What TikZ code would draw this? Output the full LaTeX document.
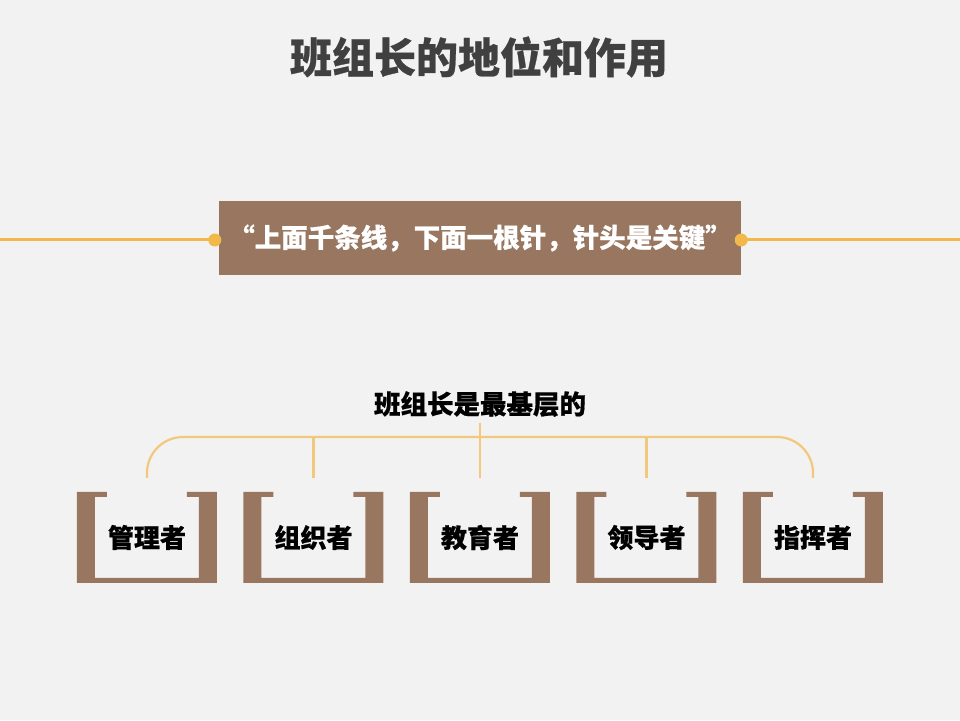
\documentclass[tikz,border=0pt]{standalone}
\usepackage{fontspec}
\setmainfont{Noto Sans CJK SC}[BoldFeatures={FakeBold=0.6}]
\usetikzlibrary{positioning,calc}
\definecolor{paper}{HTML}{F2F2F2}
\definecolor{brown}{HTML}{98765F}
\definecolor{amber}{HTML}{F3B84A}
\definecolor{wheat}{HTML}{F2C97C}
\definecolor{ink}{HTML}{404040}

\begin{document}
\begin{tikzpicture}[
  x=1pt, y=1pt,
  title/.style={font=\fontsize{42}{50}\selectfont\bfseries, text=ink},
  quote/.style={fill=brown, text=white, font=\fontsize{26.5}{30}\selectfont\bfseries, minimum width=522pt, minimum height=74pt, inner sep=0pt},
  sub/.style={font=\fontsize{26.5}{30}\selectfont\bfseries, inner sep=2pt},
  role/.style={font=\fontsize{26}{30}\selectfont\bfseries, minimum width=140pt, minimum height=91pt, inner sep=0pt},
  link/.style={amber, line width=3pt},
  tree/.style={wheat, line width=2.2pt}
]
  \fill[paper] (0,0) rectangle (960,720);
  \useasboundingbox (0,0) rectangle (960,720);

  \node[title] (head) at (479,663) {班组长的地位和作用};

  % the saying, on its line
  \node[quote] (saying) at (480,482) {“上面千条线，下面一根针，针头是关键”};
  \coordinate (lend) at (0,480);
  \coordinate (rend) at (960,480);
  \draw[link] (lend) -- (saying.west |- lend);
  \draw[link] (saying.east |- rend) -- (rend);
  \fill[amber] ([xshift=-4pt]saying.west |- lend) circle (6.5pt);
  \fill[amber] (saying.east |- rend) circle (6.5pt);

  \node[sub] (base) at (480,316) {班组长是最基层的};

  % the five roles
  \foreach \lbl [count=\i from 0] in {管理者,组织者,教育者,领导者,指挥者} {
    \node[role] (r\i) at (147+166.5*\i,182.5) {\lbl};
    \fill[brown] (r\i.north west) -- ++(30,0) -- ++(0,-5) -- ++(-12,0) -- ++(0,-81)
      -- ++(104,0) -- ++(0,81) -- ++(-12,0) -- ++(0,5) -- ++(30,0) -- ++(0,-91)
      -- ++(-140,0) -- cycle;
  }

  \coordinate (hub) at (480,283);
  \draw[tree, rounded corners=36pt] ([yshift=14pt]r0.north) |- (hub) -| ([yshift=14pt]r4.north);
  \draw[tree] ([yshift=-4pt]base.south) -- ([yshift=14pt]r2.north);
  \draw[tree] (r1.north |- hub) -- ([yshift=14pt]r1.north);
  \draw[tree] (r3.north |- hub) -- ([yshift=14pt]r3.north);
\end{tikzpicture}
\end{document}
